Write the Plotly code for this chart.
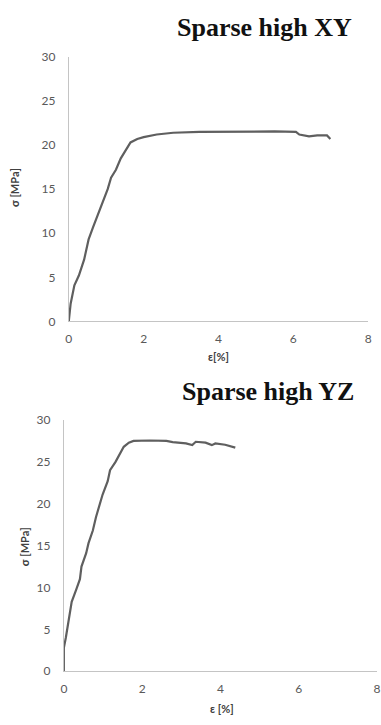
import plotly.graph_objects as go

W, H = 381, 725

# Sparse high XY
xy_strain = [0, 0.05, 0.15, 0.27, 0.41, 0.53, 0.65, 0.78, 0.91, 1.04, 1.13, 1.26, 1.39, 1.52,
             1.65, 1.83, 2.0, 2.35, 2.79, 3.49, 4.37, 5.5, 6.07, 6.16, 6.42, 6.64, 6.9, 6.99]
xy_stress = [0, 2.0, 4.1, 5.2, 7.0, 9.3, 10.7, 12.2, 13.7, 15.0, 16.3, 17.2, 18.5, 19.4,
             20.3, 20.7, 20.9, 21.2, 21.4, 21.5, 21.55, 21.55, 21.5, 21.2, 21.0, 21.1, 21.1, 20.7]

# Sparse high YZ
yz_strain = [0, 0, 0.05, 0.12, 0.2, 0.32, 0.41, 0.45, 0.57, 0.63, 0.74, 0.82, 0.91, 0.99, 1.12,
             1.18, 1.32, 1.45, 1.53, 1.66, 1.78, 2.2, 2.62, 2.78, 3.12, 3.28, 3.37, 3.62, 3.78,
             3.87, 4.12, 4.38]
yz_stress = [0, 2.8, 4.0, 5.9, 8.3, 9.8, 11.0, 12.5, 14.1, 15.3, 16.8, 18.4, 19.9, 21.1, 22.7,
             24.0, 25.0, 26.2, 26.8, 27.3, 27.5, 27.55, 27.5, 27.35, 27.2, 27.0, 27.4, 27.3, 27.0,
             27.2, 27.05, 26.7]

titles = ["Sparse high XY", "Sparse high YZ"]
xlabels = ["ε[%]", "ε [%]"]
ylabel = "σ [MPa]"
x_ticks = [0, 2, 4, 6, 8]
y_ticks = [0, 5, 10, 15, 20, 25, 30]

line_col = "#5f5f5f"
axis_col = "#c4c4c4"
tick_col = "#595959"

fig = go.Figure()
fig.add_trace(go.Scatter(x=xy_strain, y=xy_stress, mode="lines",
                         line=dict(color=line_col, width=2.2), xaxis="x", yaxis="y",
                         showlegend=False))
fig.add_trace(go.Scatter(x=yz_strain, y=yz_stress, mode="lines",
                         line=dict(color=line_col, width=2.2), xaxis="x2", yaxis="y2",
                         showlegend=False))

def px(x):
    return x / W

def py(y):
    return 1 - y / H

ax_common = dict(showgrid=False, zeroline=False, showline=True, linecolor=axis_col,
                 linewidth=1, ticks="", tickfont=dict(family="Lato", size=12, color=tick_col),
                 fixedrange=True)

fig.update_layout(
    width=W, height=H, margin=dict(l=0, r=0, t=0, b=0),
    paper_bgcolor="white", plot_bgcolor="white",
    xaxis=dict(domain=[px(67), px(372)], range=[0, 8], tickvals=x_ticks, anchor="y",
               ticklabelstandoff=6, **ax_common),
    yaxis=dict(domain=[py(320), py(50)], range=[0, 30], tickvals=y_ticks, anchor="x",
               ticklabelstandoff=10, **ax_common),
    xaxis2=dict(domain=[px(62), 1.0], range=[0, 8], tickvals=x_ticks, anchor="y2",
                ticklabelstandoff=6, **ax_common),
    yaxis2=dict(domain=[py(677.3), py(420.7)], range=[0, 30], tickvals=y_ticks, anchor="x2",
                ticklabelstandoff=10, **ax_common),
)

def a(text, x, y, size, family, color, angle=0):
    return dict(text=text, x=px(x), y=py(y), xref="paper", yref="paper", showarrow=False,
                xanchor="center", yanchor="middle", textangle=angle,
                font=dict(family=family, size=size, color=color))

ann = [
    a("<b>" + titles[0] + "</b>", 266, 20, 26, "Liberation Serif", "#111111"),
    a("<b>" + titles[1] + "</b>", 270, 392, 26, "Liberation Serif", "#111111"),
    a("<b>" + xlabels[0] + "</b>", 220, 356, 11, "Lato", "#404040"),
    a("<b>" + xlabels[1] + "</b>", 223, 715, 11, "Lato", "#404040"),
    a("<b>" + ylabel + "</b>", 11, 183, 11, "Lato", "#404040", -90),
    a("<b>" + ylabel + "</b>", 22, 550, 11, "Lato", "#404040", -90),
]
fig.update_layout(annotations=ann)

fig.write_html("out.html")
